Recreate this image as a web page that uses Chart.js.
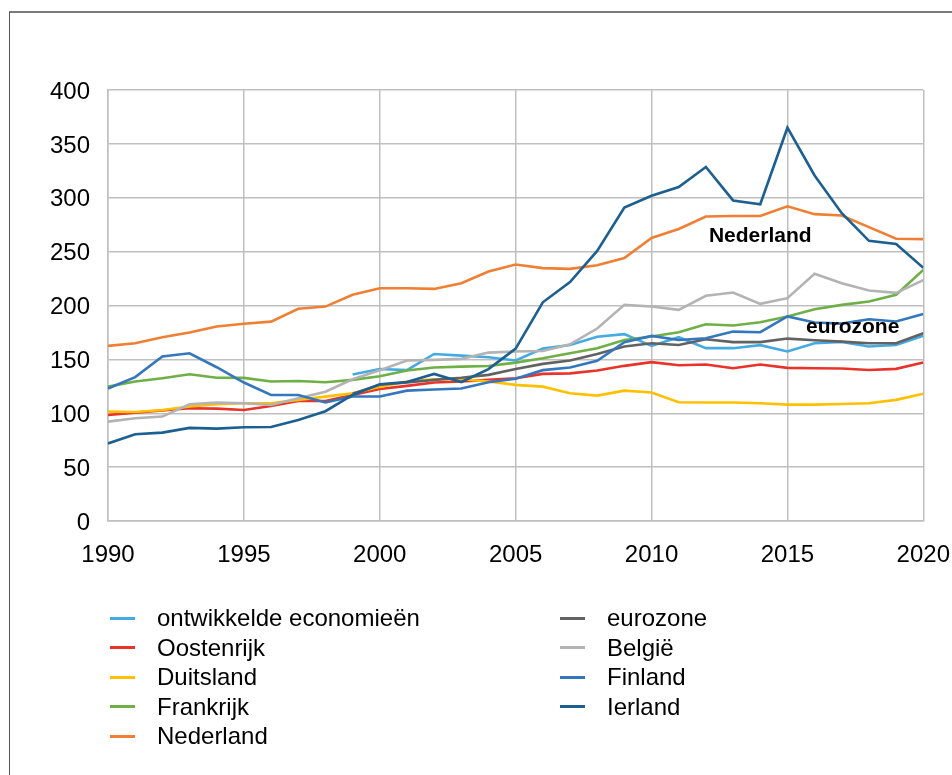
<!DOCTYPE html>
<html>
<head>
<meta charset="utf-8">
<script src="https://cdn.jsdelivr.net/npm/chart.js@4.4.1/dist/chart.umd.min.js"></script>
<style>
  html, body { margin: 0; padding: 0; background: #fff; }
  body { width: 952px; height: 775px; overflow: hidden; position: relative; font-family: "Liberation Sans", Arial, sans-serif; }
  #frame { position: absolute; left: 9px; top: 11px; width: 1000px; height: 800px; border-left: 1px solid #555; border-top: 2px solid #7a7a7a; box-sizing: border-box; }
  #c { position: absolute; left: 0; top: 0; }
  .lg { position: absolute; height: 30px; display: flex; align-items: center; font-size: 24px; color: #000; white-space: nowrap; }
  .lg .sw { display: inline-block; width: 25px; height: 3px; margin-right: 22px; }
</style>
</head>
<body>
<div id="frame"></div>
<canvas id="c" width="970" height="775"></canvas>
<div id="legend"></div>
<script>
const years = [1990,1991,1992,1993,1994,1995,1996,1997,1998,1999,2000,2001,2002,2003,2004,2005,2006,2007,2008,2009,2010,2011,2012,2013,2014,2015,2016,2017,2018,2019,2020];

const ontwikkelde = [null,null,null,null,null,null,null,null,null,136,141,140,155,153.5,152,149,160,163.4,171,173.4,162.5,170.6,160.4,160.4,163.2,157.3,165,166.2,161.9,163.4,172];
const oostenrijk = [98.4,100.6,102.5,104.6,104.3,103,106.8,111.4,111.4,117,122.5,125.4,128.5,129.4,131,132.5,136.5,137,139.6,144,147.4,144.6,145.2,141.8,145.2,142.1,141.8,141.5,140.2,141.2,147];
const duitsland = [101.5,101.2,103,106.2,108.4,109.3,109.3,112.4,115.4,118.6,124.5,129.4,131.6,131.6,129.4,126.3,124.7,118.6,116.4,121,119.2,110.2,110,110,109.3,108,108,108.6,109.3,112.4,118];
const frankrijk = [124.7,129.4,132.5,136.2,133,132.8,129.4,129.9,128.8,131,134.3,139.6,142.4,143.3,143.9,147,151,155.7,160.4,168,171.2,175.2,182.6,181.4,184.5,189.8,196.6,200.6,203.7,209.9,233];
const nederland = [162.5,165,170.6,175,180.5,183,185,197,199,210,216,216,215.4,220.7,231.5,238,234.7,234,237.4,244,262.7,271,282.6,283,283,292,284.8,283.5,272.7,262,261.6];
const eurozone = [null,null,null,null,null,null,null,null,null,118,126.5,128.5,131,133,135.6,141,145.8,148.9,155,161.9,165,163.4,168.7,166,166,169.3,167.8,166.5,165,165,174.3];
const belgie = [92.2,95.3,96.9,108.4,109.9,109.3,107.7,114,120,131.6,140,148.9,149.5,150.5,156.3,157.3,157.8,164,178.6,200.6,199,196,209,212,201.5,206.8,229.4,220.7,213.9,211.7,223.5];
const finland = [123,133.5,152.6,155.7,142.7,128.5,117,117,110,115.5,115.5,121,122,123,128.8,132,140,142.4,148.6,166,171.8,168,169.6,175.8,175.2,189.8,184.2,183.2,187.3,185.1,192];
const ierland = [72,80.5,82,86.4,85.7,87,87.3,93.8,101.9,117,127,129,136.5,129,141,160,203,221.7,250.7,291,301.8,310,328.5,297.5,294,365,320.7,285.7,260,257,235];

const seriesNames = ['ontwikkelde economieën','Oostenrijk','Duitsland','Frankrijk','Nederland','eurozone','België','Finland','Ierland'];
const seriesValues = [ontwikkelde, oostenrijk, duitsland, frankrijk, nederland, eurozone, belgie, finland, ierland];
const seriesColors = ['#46aae2','#e8332a','#ffc000','#6fb046','#f07f34','#626262','#b3b3b3','#3577bd','#1c5f90'];

const xTicks = [1990,1995,2000,2005,2010,2015,2020];
const yTicks = [0,50,100,150,200,250,300,350,400];

const labels = [
  { text: 'Nederland', year: 2014, value: 264.7 },
  { text: 'eurozone', year: 2017.4, value: 180 }
];

const datasets = seriesNames.map((name, i) => ({
  label: name,
  data: years.map((y, k) => ({ x: y, y: seriesValues[i][k] })),
  borderColor: seriesColors[i],
  backgroundColor: seriesColors[i],
  borderWidth: 2.6,
  pointRadius: 0,
  tension: 0,
  spanGaps: false,
  order: seriesNames.length - i
}));

const annotPlugin = {
  id: 'annot',
  afterDatasetsDraw(chart) {
    const { ctx, scales } = chart;
    ctx.save();
    ctx.font = 'bold 21px "Liberation Sans", Arial, sans-serif';
    ctx.fillStyle = '#000';
    ctx.textAlign = 'center';
    ctx.textBaseline = 'middle';
    labels.forEach(l => {
      ctx.fillText(l.text, scales.x.getPixelForValue(l.year), scales.y.getPixelForValue(l.value));
    });
    ctx.restore();
  }
};

const gridColor = '#bfbfbf';
new Chart(document.getElementById('c'), {
  type: 'line',
  data: { datasets },
  options: {
    responsive: false,
    animation: false,
    devicePixelRatio: 1,
    layout: { padding: { left: 8, top: 90, right: 11.4, bottom: 194 } },
    plugins: { legend: { display: false }, tooltip: { enabled: false } },
    scales: {
      x: {
        type: 'linear',
        min: xTicks[0], max: xTicks[xTicks.length - 1],
        afterBuildTicks: s => { s.ticks = xTicks.map(v => ({ value: v })); },
        afterFit: s => { s.height = 60; },
        ticks: { color: '#000', font: { family: '"Liberation Sans", Arial, sans-serif', size: 24 }, padding: 20, maxRotation: 0, callback: v => String(v) },
        grid: { color: gridColor, lineWidth: 1.5, drawTicks: false },
        border: { display: true, color: gridColor, width: 1.5 }
      },
      y: {
        type: 'linear',
        min: yTicks[0], max: yTicks[yTicks.length - 1],
        afterBuildTicks: s => { s.ticks = yTicks.map(v => ({ value: v })); },
        afterFit: s => { s.width = 100; },
        ticks: { color: '#000', font: { family: '"Liberation Sans", Arial, sans-serif', size: 24 }, padding: 18, labelOffset: 2, callback: v => String(v) },
        grid: { color: gridColor, lineWidth: 1.5, drawTicks: false },
        border: { display: true, color: gridColor, width: 1.5 }
      }
    }
  },
  plugins: [annotPlugin]
});

// legend (two columns, column-major)
const legendCols = [110, 560];
const legendRowTop = 603;
const legendRowStep = 29.5;
const lg = document.getElementById('legend');
seriesNames.forEach((name, i) => {
  const col = i < 5 ? 0 : 1;
  const row = i < 5 ? i : i - 5;
  const d = document.createElement('div');
  d.className = 'lg';
  d.style.left = legendCols[col] + 'px';
  d.style.top = (legendRowTop + row * legendRowStep) + 'px';
  const sw = document.createElement('span');
  sw.className = 'sw';
  sw.style.background = seriesColors[i];
  const t = document.createElement('span');
  t.textContent = name;
  d.appendChild(sw); d.appendChild(t);
  lg.appendChild(d);
});
</script>
</body>
</html>
